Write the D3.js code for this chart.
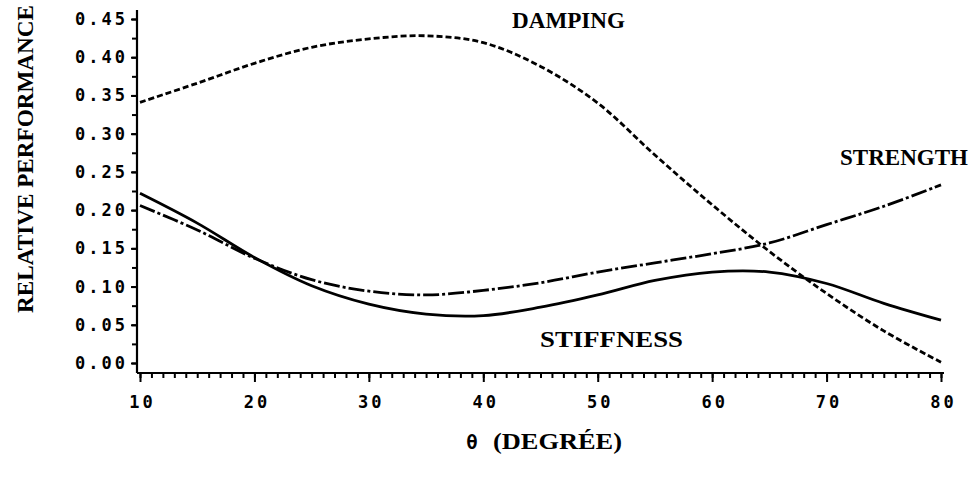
<!DOCTYPE html>
<html>
<head>
<meta charset="utf-8">
<script src="https://cdn.jsdelivr.net/npm/d3@7"></script>
<style>
  body { margin: 0; background: #fff; }
  svg { display: block; }
</style>
</head>
<body>
<script>
const WIDTH = 974
const HEIGHT = 477

// angle in degrees
const angles = [10, 15, 20, 25, 30, 35, 40, 45, 50, 55, 60, 65, 70, 75, 80]
const damping = [0.341, 0.366, 0.392, 0.413, 0.424, 0.428, 0.419, 0.388, 0.340, 0.272, 0.207, 0.146, 0.091, 0.042, 0.001]
const strength = [0.206, 0.174, 0.137, 0.109, 0.094, 0.089, 0.095, 0.105, 0.119, 0.131, 0.143, 0.157, 0.181, 0.205, 0.233]
const stiffness = [0.222, 0.183, 0.138, 0.101, 0.077, 0.064, 0.062, 0.073, 0.089, 0.108, 0.119, 0.119, 0.104, 0.078, 0.056]

const xTicks = [10, 20, 30, 40, 50, 60, 70, 80]
const yTicks = [0, 0.05, 0.10, 0.15, 0.20, 0.25, 0.30, 0.35, 0.40, 0.45]

const MONO = '"DejaVu Sans Mono", monospace'
const SERIF = '"Liberation Serif", "DejaVu Serif", serif'

const svg = d3.select('body')
    .append('svg')
    .attr('width', WIDTH)
    .attr('height', HEIGHT)

const x = d3.scaleLinear().domain([10, 80]).range([140, 941])
const y = d3.scaleLinear().domain([0, 0.45]).range([363, 19])

const AXIS_X = 137
const AXIS_Y = 373

// axis lines
svg.append('line')
    .attr('x1', AXIS_X).attr('x2', AXIS_X)
    .attr('y1', 10).attr('y2', AXIS_Y)
    .attr('stroke', '#000').attr('stroke-width', 2.2)
svg.append('line')
    .attr('x1', AXIS_X).attr('x2', 944)
    .attr('y1', AXIS_Y).attr('y2', AXIS_Y)
    .attr('stroke', '#000').attr('stroke-width', 2.2)

// y axis
const yMinor = svg.append('g')
    .attr('transform', `translate(${AXIS_X}, 0)`)
    .call(d3.axisLeft(y).tickValues(d3.range(0, 0.4501, 0.025)).tickSize(5).tickFormat(''))
yMinor.select('.domain').remove()
const yAxis = svg.append('g')
    .attr('transform', `translate(${AXIS_X}, 0)`)
    .call(d3.axisLeft(y).tickValues(yTicks).tickSize(6).tickPadding(3).tickFormat(d3.format('.2f')))
yAxis.select('.domain').remove()

// x axis
const xMinor = svg.append('g')
    .attr('transform', `translate(0, ${AXIS_Y})`)
    .call(d3.axisBottom(x).tickValues(d3.range(10, 80.01, 1)).tickSize(5).tickFormat(''))
xMinor.select('.domain').remove()
const xAxis = svg.append('g')
    .attr('transform', `translate(0, ${AXIS_Y})`)
    .call(d3.axisBottom(x).tickValues(xTicks).tickSize(9).tickPadding(14).tickFormat(d3.format('d')))
xAxis.select('.domain').remove()

svg.selectAll('.tick line').attr('stroke', '#000').attr('stroke-width', 2)
svg.selectAll('.tick text')
    .attr('font-family', MONO)
    .attr('font-weight', 'bold')
    .attr('font-size', 17)
    .attr('letter-spacing', 3)
    .attr('fill', '#000')
xAxis.selectAll('.tick text').attr('dx', 2)

// curves
const series = [
    { name: 'DAMPING', values: damping, dash: '6,3' },
    { name: 'STRENGTH', values: strength, dash: '16,3,3,3' },
    { name: 'STIFFNESS', values: stiffness, dash: null }
]

const line = d3.line()
    .x((d, i) => x(angles[i]))
    .y(d => y(d))
    .curve(d3.curveCatmullRom.alpha(0.5))

svg.append('g')
    .selectAll('path')
    .data(series)
    .enter()
    .append('path')
    .attr('d', d => line(d.values))
    .attr('fill', 'none')
    .attr('stroke', '#000')
    .attr('stroke-width', 2.8)
    .attr('stroke-dasharray', d => d.dash)

// curve labels
const labels = [
    { text: 'DAMPING', x: 512, y: 28, len: 113 },
    { text: 'STRENGTH', x: 840, y: 165, len: 128 },
    { text: 'STIFFNESS', x: 540, y: 347, len: 143 }
]
svg.append('g')
    .selectAll('text')
    .data(labels)
    .enter()
    .append('text')
    .text(d => d.text)
    .attr('x', d => d.x)
    .attr('y', d => d.y)
    .attr('textLength', d => d.len)
    .attr('lengthAdjust', 'spacingAndGlyphs')
    .attr('font-family', SERIF)
    .attr('font-weight', 'bold')
    .attr('font-size', 24)

// axis titles
svg.append('text')
    .text('RELATIVE PERFORMANCE')
    .attr('transform', 'translate(33, 159) rotate(-90)')
    .attr('text-anchor', 'middle')
    .attr('textLength', 308)
    .attr('lengthAdjust', 'spacingAndGlyphs')
    .attr('font-family', SERIF)
    .attr('font-weight', 'bold')
    .attr('font-size', 23)

svg.append('text')
    .text('θ')
    .attr('x', 472)
    .attr('y', 449)
    .attr('text-anchor', 'middle')
    .attr('font-family', MONO)
    .attr('font-weight', 'bold')
    .attr('font-size', 19)

svg.append('text')
    .text('(DEGRÉE)')
    .attr('x', 493)
    .attr('y', 449)
    .attr('textLength', 129)
    .attr('lengthAdjust', 'spacingAndGlyphs')
    .attr('font-family', SERIF)
    .attr('font-weight', 'bold')
    .attr('font-size', 23)
</script>
</body>
</html>
